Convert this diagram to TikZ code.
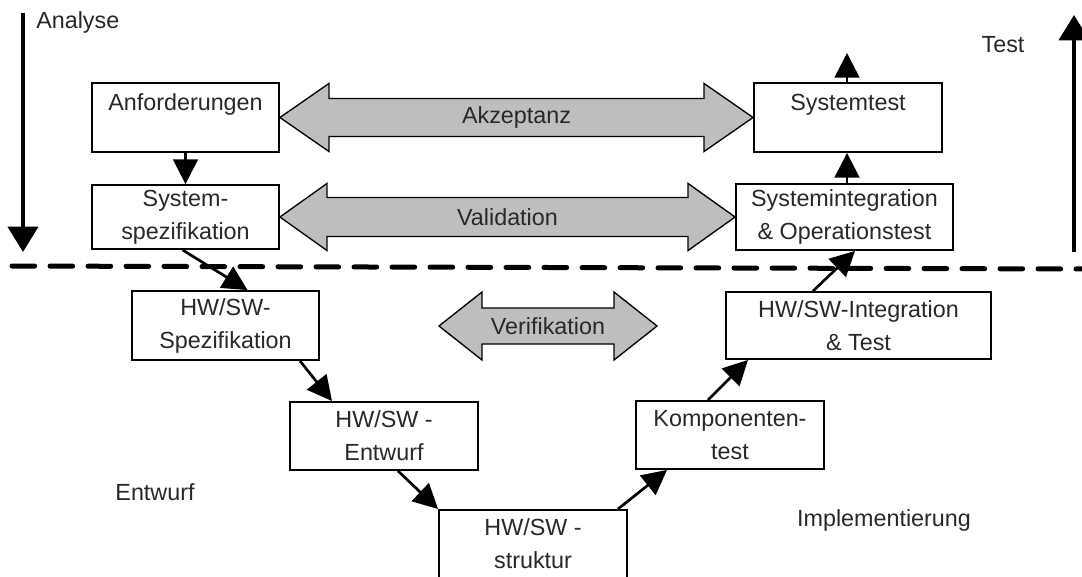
\documentclass[tikz,border=0pt]{standalone}
\usepackage{fontspec}
\setmainfont{Liberation Sans}
\usetikzlibrary{arrows.meta,calc}
\definecolor{arrgray}{RGB}{190,190,190}
\definecolor{txt}{RGB}{40,40,40}
\newcommand\dblarr[5]{%
  \draw[bigarr] (#1) -- ($(#1)+(#5,-#4)$) -- ($(#1)+(#5,-#3)$) -- ($(#2)+(-#5,-#3)$) -- ($(#2)+(-#5,-#4)$) -- (#2)
   -- ($(#2)+(-#5,#4)$) -- ($(#2)+(-#5,#3)$) -- ($(#1)+(#5,#3)$) -- ($(#1)+(#5,#4)$) -- cycle;}
\begin{document}
\begin{tikzpicture}[x=0.75pt,y=-0.75pt,
  txtfont/.style={font=\fontsize{17.5}{24.75}\selectfont, text=txt},
  box/.style n args={2}{draw, line width=1.4pt, fill=white, minimum width=#1*0.75pt,
     minimum height=#2*0.75pt, inner sep=0pt, align=center, txtfont},
  conn/.style={line width=2pt, -{Triangle[length=18.5pt,width=18.5pt]}},
  axisarr/.style={line width=3pt, -{Triangle[length=19pt,width=22.5pt]}},
  bigarr/.style={draw, line width=1pt, fill=arrgray, line join=miter},
  dashline/.style={line width=3.75pt, dash pattern=on 17pt off 11.5pt, line cap=round},
  lbl/.style={txtfont, inner sep=0pt}
]
\fill[white] (0,0) rectangle (1082,576);
\useasboundingbox (0,0) rectangle (1082,576);

% boxes
\node[box={187}{69}] (anf) at (185.5,117.5) {\raisebox{-2pt}{Anforderungen}\\\mbox{}};
\node[box={187}{64}] (sysspez) at (185.5,217) {\raisebox{-1.5pt}{System-}\\\raisebox{-1.5pt}{spezifikation}};
\node[box={187}{69}] (hwspec) at (225.5,325.5) {HW/SW-\\Spezifikation};
\node[box={188}{68}] (entw) at (384,436) {HW/SW -\\Entwurf};
\node[box={188}{68}] (strukt) at (533,544) {HW/SW -\\struktur};
\node[box={188}{68}] (komp) at (730,435) {Komponenten-\\test};
\node[box={265}{67}] (integ) at (858.5,325.5) {HW/SW-Integration\\\& Test};
\node[box={217}{66}] (sysint) at (844.5,217) {Systemintegration\\\& Operationstest};
\node[box={188}{69}] (systest) at (848,117.5) {\raisebox{-2pt}{Systemtest}\\\mbox{}};

% big double arrows
\dblarr{anf.east}{systest.west}{19}{34}{49}
\node[lbl] (akz) at ($(anf.east)!0.5!(systest.west)$) {Akzeptanz};
\dblarr{sysspez.east}{sysint.west}{19.5}{33.5}{47}
\node[lbl] (val) at ($(sysspez.east)!0.5!(sysint.west)$) {Validation};
\coordinate (vl) at (439,326);
\coordinate (vr) at (657,326);
\dblarr{vl}{vr}{18}{34}{43}
\node[lbl] (ver) at ($(vl)!0.5!(vr)$) {Verifikation};

% dashed separator
\coordinate (dl) at (12,266);
\coordinate (dr) at (1090,269);
\draw[dashline] (dl) -- (dr);

% connectors
\draw[conn] (anf.south) -- (sysspez.north);
\draw[conn] ($(sysspez.south)+(-3,0)$) -- ($(hwspec.north)+(22,0)$);
\draw[conn] ($(hwspec.south)+(74.5,0)$) -- ($(entw.north)+(-52,0)$);
\draw[conn] ($(entw.south)+(14,0)$) -- (strukt.north west);
\draw[conn] ($(strukt.north east)+(-10,0)$) -- ($(komp.south)+(-63,0)$);
\draw[conn] ($(komp.north)+(-22,0)$) -- ($(integ.south)+(-110.5,0)$);
\draw[conn] ($(integ.north)+(-45.5,0)$) -- ($(sysint.south)+(10.5,0)$);
\draw[conn] ($(sysint.north)+(2.5,0)$) -- ($(systest.south)+(-1,0)$);
\coordinate (top) at (847,53);
\draw[conn] ($(systest.north)+(-1,0)$) -- (top);

% phase axes
\coordinate (a1) at (23,13);
\coordinate (a2) at (23,252);
\draw[axisarr] (a1) -- (a2);
\coordinate (t1) at (1074,252);
\coordinate (t2) at (1074,15);
\draw[axisarr] (t1) -- (t2);

% labels
\node[lbl, anchor=west] (analyse) at (36,22) {Analyse};
\node[lbl] (test) at (1003,45) {Test};
\node[lbl] (entwurf) at (155,492) {Entwurf};
\node[lbl] (impl) at (884,520) {Implementierung};
\end{tikzpicture}
\end{document}
